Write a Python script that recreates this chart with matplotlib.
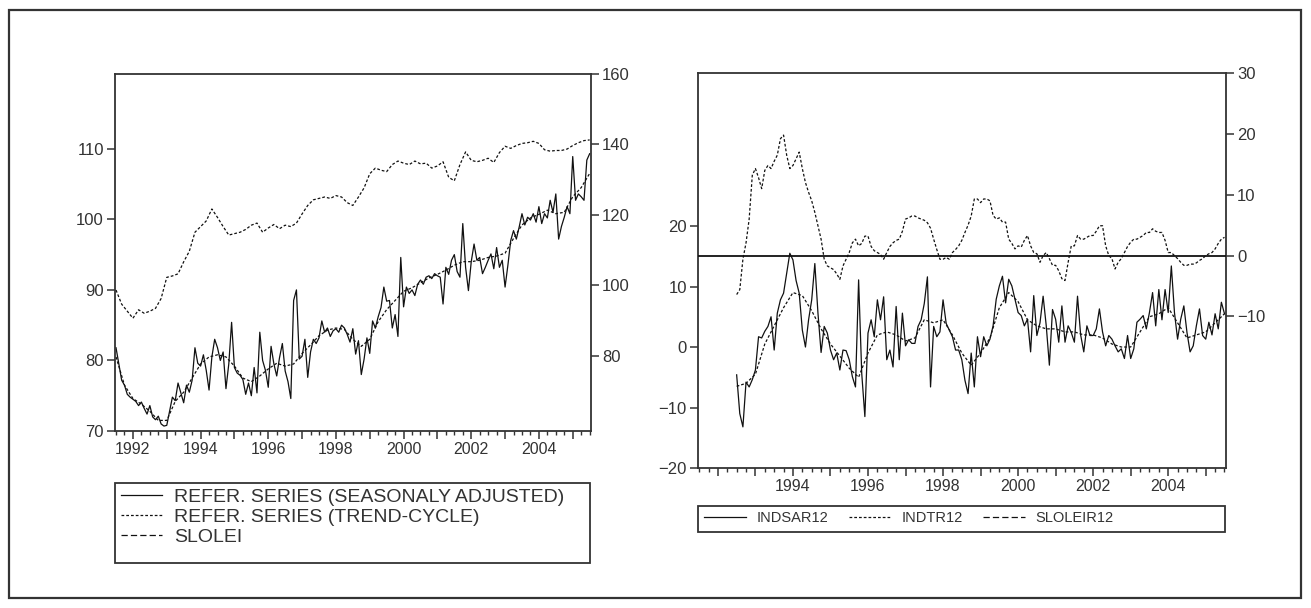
import numpy as np
import matplotlib.pyplot as plt
from matplotlib.lines import Line2D
from matplotlib.patches import Rectangle
from matplotlib.ticker import FixedLocator, NullFormatter

plt.rcParams['font.family'] = ['Liberation Sans', 'DejaVu Sans']
plt.rcParams['font.size'] = 10

INK = '#111111'
TXT = '#333333'
W, H = 1311, 608

# ---- left panel: levels -------------------------------------------------
# reference series, seasonally adjusted, monthly 1991M07 - 2005M07
refer_sa = [
    81.8, 79.5, 77.2, 76.5, 75.2, 74.8,
    74.5, 74.2, 73.6, 74.1, 73.2, 72.4, 73.6, 72.0, 71.6, 72.1, 71.0, 70.7,
    70.8, 72.8, 74.8, 74.3, 76.8, 75.4, 74.0, 76.5, 75.5, 77.2, 81.8, 79.6,
    79.2, 80.8, 78.6, 75.8, 80.5, 83.0, 81.8, 80.0, 81.2, 76.0, 79.5, 85.4,
    79.0, 78.2, 77.9, 77.3, 75.2, 76.8, 75.0, 79.0, 75.4, 84.0, 80.0, 78.6,
    76.2, 82.0, 79.5, 77.8, 80.4, 82.4, 78.5, 77.0, 74.6, 88.5, 90.0, 80.2,
    80.6, 83.0, 77.6, 81.2, 83.0, 82.4, 83.2, 85.6, 84.0, 84.6, 83.4, 84.2,
    84.5, 84.0, 85.0, 84.6, 83.7, 82.6, 84.5, 80.9, 82.8, 78.0, 80.2, 83.2,
    81.0, 85.6, 84.6, 86.2, 87.5, 90.4, 88.4, 88.5, 84.6, 86.5, 83.4, 94.6,
    87.6, 90.4, 89.5, 90.0, 89.2, 90.8, 91.4, 90.8, 91.8, 92.0, 91.6, 92.3,
    92.0, 91.8, 88.0, 93.2, 92.2, 94.2, 95.0, 92.6, 91.8, 99.4, 93.2, 89.9,
    94.0, 96.5, 94.2, 94.6, 92.3, 93.2, 94.2, 95.1, 93.0, 96.0, 93.2, 94.2,
    90.4, 93.5, 97.0, 98.4, 97.2, 98.9, 100.8, 99.2, 100.3, 99.9, 100.8, 99.6,
    101.8, 99.4, 100.8, 100.2, 102.7, 101.0, 103.6, 97.2, 99.0, 100.3, 101.8, 100.8,
    108.9, 102.7, 103.6, 103.2, 102.7, 108.4, 109.3,
]
# trend-cycle, quarterly 1991Q3 - 2005Q3
refer_tc = [
    80.5, 76.5,
    74.6, 73.8, 72.8, 71.5,
    71.5, 74.2, 75.5, 77.5,
    79.5, 80.5, 80.8, 80.5,
    79.2, 77.5, 77.0, 77.8,
    78.8, 79.6, 79.2, 79.5,
    81.0, 82.2, 83.5, 84.3,
    84.6, 84.4, 83.0, 82.0,
    83.0, 85.5, 87.2, 88.5,
    89.8, 90.3, 91.0, 91.7,
    92.2, 92.8, 93.5, 94.0,
    94.0, 94.2, 94.6, 94.8,
    95.2, 97.3, 99.2, 100.2,
    100.7, 101.3, 100.8, 101.0,
    103.2, 104.5, 106.5,
]
# SLOLEI (right axis), every second month 1991M07 - 2005M07
slolei = [
    98.7, 94.7, 92.7,
    90.7, 93.1, 92.1, 92.7, 93.5, 96.3,
    102.3, 102.7, 103.3, 106.7, 109.7, 115.1,
    116.7, 118.3, 121.7, 119.3, 116.7, 114.3,
    114.7, 115.1, 115.9, 117.1, 117.7, 115.1,
    116.3, 117.3, 116.1, 117.1, 116.7, 117.7,
    120.3, 122.7, 124.3, 124.7, 125.1, 124.7,
    125.5, 125.1, 123.5, 122.7, 125.1, 127.7,
    131.7, 133.3, 132.7, 132.3, 134.3, 135.3,
    134.7, 134.3, 135.3, 134.5, 134.7, 133.3,
    133.9, 135.1, 130.7, 129.7, 134.3, 137.9,
    135.5, 135.1, 135.5, 136.1, 134.9, 137.7,
    139.5, 138.9, 139.7, 140.3, 140.5, 140.9,
    140.3, 138.5, 138.1, 138.3, 138.3, 138.7,
    139.7, 140.5, 141.1, 141.3,
]

# ---- right panel: 12-month growth rates ---------------------------------
# monthly 1992M07 - 2005M07
indsar12 = [
    -4.6, -11.0, -13.2, -5.8, -6.6, -5.4,
    -3.8, 1.7, 1.5, 2.6, 3.4, 5.0, -0.5, 5.6, 7.8, 8.9, 12.2, 15.5,
    14.4, 11.0, 8.9, 2.8, 0.0, 4.5, 7.8, 13.8, 5.6, -0.9, 3.4, 2.3,
    -0.5, -2.1, -1.0, -3.8, -0.5, -0.6, -2.1, -4.9, -6.6, 11.1, -4.4, -11.5,
    2.3, 4.5, 1.7, 7.8, 4.5, 8.3, -2.1, -0.5, -3.3, 6.7, -2.1, 5.6,
    0.2, 1.2, 0.6, 0.6, 3.4, 4.5, 7.2, 11.6, -6.6, 3.4, 1.7, 2.5,
    7.8, 3.9, 2.8, 1.7, -0.5, -0.5, -2.1, -5.5, -7.7, -1.0, -6.6, 1.7,
    -1.6, 1.7, 0.2, 1.3, 3.5, 7.9, 10.1, 11.7, 7.3, 11.2, 10.1, 7.9,
    5.7, 5.2, 3.5, 4.6, -0.8, 8.5, 1.9, 4.0, 8.4, 3.5, -3.0, 6.2,
    4.6, 0.8, 6.8, 0.8, 3.5, 2.4, 0.8, 8.4, 2.0, -0.8, 3.5, 1.9,
    1.9, 3.0, 6.3, 2.5, 0.2, 1.9, 1.3, 0.2, -0.8, -0.3, -1.9, 1.9,
    -1.9, -0.3, 4.1, 4.6, 5.2, 3.0, 5.7, 9.0, 3.5, 9.5, 4.5, 9.5,
    5.7, 13.4, 5.7, 1.3, 4.6, 6.8, 2.4, -0.8, 0.2, 3.5, 6.3, 1.9,
    1.3, 4.1, 2.0, 5.5, 3.0, 7.4, 5.5,
]
# quarterly 1992Q3 - 2005Q3
indtr12 = [
    -6.5, -6.0,
    -4.5, 0.5, 3.5, 6.5,
    9.0, 8.5, 6.0, 3.0,
    0.5, -1.5, -3.5, -5.0,
    -1.0, 2.0, 2.5, 2.0,
    1.0, 1.5, 4.5, 4.0,
    4.5, 2.0, -1.0, -3.0,
    -1.0, 1.5, 6.5, 9.0,
    7.5, 4.5, 3.5, 3.0,
    3.0, 2.5, 2.5, 2.0,
    2.0, 1.5, 0.5, 0.0,
    0.0, 2.5, 5.0, 5.5,
    6.5, 4.0, 1.5, 2.0,
    2.5, 4.0, 5.5,
]
# monthly 1992M07 - 2005M07 (right axis)
sloleir12 = [
    -6.4, -5.6, -0.6, 2.1, 6.0, 13.2,
    14.3, 12.8, 11.0, 14.0, 14.8, 14.3, 15.5, 16.5, 19.2, 19.8, 16.5, 14.3,
    14.8, 15.9, 17.0, 14.3, 12.0, 10.4, 9.0, 7.1, 4.9, 2.7, -0.6, -1.7,
    -2.0, -2.3, -3.0, -3.9, -1.7, -0.6, 0.5, 2.1, 2.7, 1.6, 2.0, 3.2,
    3.2, 1.5, 0.8, 0.5, 0.2, -0.6, 0.5, 1.5, 2.1, 2.5, 2.7, 4.0,
    6.0, 6.2, 6.5, 6.5, 6.2, 6.0, 5.8, 5.4, 4.5, 2.7, 1.0, -0.6,
    -0.6, -0.3, -0.6, 0.5, 1.0, 1.6, 2.5, 3.8, 5.0, 6.5, 9.3, 9.3,
    8.7, 9.3, 9.3, 9.0, 6.6, 6.0, 6.2, 5.5, 5.5, 2.7, 2.0, 1.1,
    1.6, 1.4, 2.5, 3.3, 1.6, 0.5, 0.3, -1.1, 0.0, 0.5, -0.5, -1.6,
    -1.6, -2.5, -3.8, -4.1, -1.1, 1.6, 1.6, 3.3, 2.7, 2.7, 3.0, 3.3,
    3.3, 4.0, 4.9, 4.9, 1.6, 0.0, -0.5, -2.2, -1.1, -0.5, 0.5, 1.5,
    2.2, 2.7, 2.7, 3.0, 3.3, 3.8, 3.8, 4.4, 4.0, 3.8, 3.8, 2.5,
    0.5, 0.5, 0.0, -0.5, -1.1, -1.6, -1.6, -1.4, -1.4, -1.2, -0.8, -0.5,
    0.0, 0.3, 0.5, 1.1, 2.0, 2.7, 3.0,
]

left_labels = ['REFER. SERIES (SEASONALY ADJUSTED)', 'REFER. SERIES (TREND-CYCLE)', 'SLOLEI']
right_labels = ['INDSAR12', 'INDTR12', 'SLOLEIR12']

t_sa = 1991.5 + np.arange(len(refer_sa)) / 12
t_tc = 1991.5 + np.arange(len(refer_tc)) / 4
t_sl = 1991.5 + np.arange(len(slolei)) / 6
t_g = 1992.5 + np.arange(len(indsar12)) / 12
t_gq = 1992.5 + np.arange(len(indtr12)) / 4

SOLID = dict(color=INK, lw=0.9, linestyle='-')
SHORT = dict(color=INK, lw=0.9, linestyle=(0, (2.2, 1.6)))
LONG = dict(color=INK, lw=0.9, linestyle=(0, (5, 2.5)))


def box(x0, y0, x1, y1, lw):
    # rectangle given in pixel coords of the picture (origin top-left)
    fig.add_artist(Rectangle((x0 / W, 1 - y1 / H), (x1 - x0) / W, (y1 - y0) / H,
                             transform=fig.transFigure, fill=False, lw=lw,
                             edgecolor='#333333'))


fig = plt.figure(figsize=(W / 100, H / 100), dpi=100)
box(9, 10, 1301, 598, 1.6)


def style(ax, years, labelled):
    ax.set_xlim(1991.47, 2005.54)
    ax.xaxis.set_major_locator(FixedLocator(years))
    ax.set_xticklabels([str(y) if y in labelled else '' for y in years])
    ax.xaxis.set_minor_locator(FixedLocator(np.arange(1991.5, 2005.6, 0.25)))
    ax.xaxis.set_minor_formatter(NullFormatter())
    ax.tick_params(axis='x', which='major', length=6, width=1.1, color='#333333',
                   labelcolor=TXT, labelsize=11.5, pad=2)
    ax.tick_params(axis='x', which='minor', length=3, width=1.0, color='#333333')
    for s in ax.spines.values():
        s.set_linewidth(1.3)
        s.set_color('#333333')


def yaxis(ax, side):
    ax.tick_params(axis='y', length=6, width=1.1, color='#333333',
                   labelcolor=TXT, labelsize=12, pad=2)
    if side == 'right':
        ax.yaxis.tick_right()


years = list(range(1992, 2006))

# ---- left panel
axl = fig.add_axes([115 / W, 1 - 431 / H, 476 / W, 357 / H])
axl.plot(t_sa, refer_sa, **SOLID)
axl.plot(t_tc, refer_tc, **SHORT)
axl.set_ylim(70, 120.6)
axl.set_yticks([70, 80, 90, 100, 110])
style(axl, years, range(1992, 2005, 2))
yaxis(axl, 'left')

axl2 = axl.twinx()
axl2.plot(t_sl, slolei, **SHORT)
axl2.set_ylim(58.7, 160)
axl2.set_yticks([80, 100, 120, 140, 160])
yaxis(axl2, 'right')
axl2.spines[:].set_visible(False)

h_left = [Line2D([], [], **SOLID), Line2D([], [], **SHORT), Line2D([], [], **LONG)]
box(115, 483, 590, 563, 1.3)
fig.legend(h_left, left_labels, loc='upper left', bbox_to_anchor=(121 / W, 1 - 488 / H),
           ncol=1, frameon=False, fontsize=14, handlelength=2.1, handletextpad=0.65,
           labelspacing=0.12, borderpad=0.0, borderaxespad=0.0, labelcolor=TXT)

# ---- right panel
axr = fig.add_axes([698 / W, 1 - 468 / H, 528 / W, 395 / H])
axr.plot(t_g, indsar12, **SOLID)
axr.plot(t_gq, indtr12, **SHORT)
axr.set_ylim(-20, 45.3)
axr.set_yticks([-20, -10, 0, 10, 20])
style(axr, years, range(1994, 2005, 2))
yaxis(axr, 'left')

axr2 = axr.twinx()
axr2.axhline(0, color=INK, lw=1.3)
axr2.plot(t_g, sloleir12, **SHORT)
axr2.set_ylim(-34.9, 30)
axr2.set_yticks([-10, 0, 10, 20, 30])
yaxis(axr2, 'right')
axr2.spines[:].set_visible(False)

h_right = [Line2D([], [], **SOLID), Line2D([], [], **SHORT), Line2D([], [], **LONG)]
box(698, 506, 1225, 532, 1.3)
fig.legend(h_right, right_labels, loc='upper left', bbox_to_anchor=(704 / W, 1 - 511 / H),
           ncol=3, frameon=False, fontsize=10.5, handlelength=2.9, handletextpad=0.7,
           columnspacing=1.4, borderpad=0.0, borderaxespad=0.0, labelcolor=TXT)

fig.savefig('out.png', dpi=100)
